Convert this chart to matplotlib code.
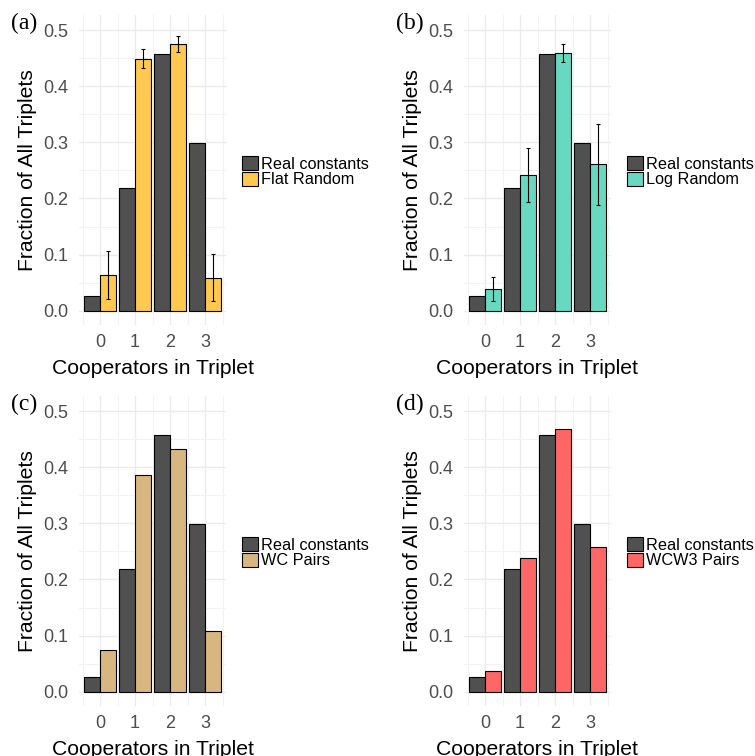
import matplotlib
matplotlib.use("Agg")
import matplotlib.pyplot as plt
import numpy as np

plt.rcParams['font.family'] = ['Liberation Sans', 'DejaVu Sans']

cooperators = [0, 1, 2, 3]
real_constants = [0.026, 0.219, 0.457, 0.298]

flat_random = [0.063, 0.449, 0.475, 0.059]
flat_lo = [0.021, 0.433, 0.461, 0.017]
flat_hi = [0.107, 0.466, 0.489, 0.101]

log_random = [0.038, 0.241, 0.460, 0.261]
log_lo = [0.017, 0.193, 0.443, 0.188]
log_hi = [0.060, 0.290, 0.476, 0.332]

wc_pairs = [0.075, 0.386, 0.432, 0.108]
wcw3_pairs = [0.036, 0.238, 0.468, 0.257]

W, H = 755, 756
fig = plt.figure(figsize=(W / 100, H / 100), dpi=100)

panels = [
    ("(a)", "Flat Random", flat_random, flat_lo, flat_hi, "#FFC84F", 79, 15, 11),
    ("(b)", "Log Random", log_random, log_lo, log_hi, "#66D9C0", 464, 15, 396),
    ("(c)", "WC Pairs", wc_pairs, None, None, "#D8B67F", 79, 396, 11),
    ("(d)", "WCW3 Pairs", wcw3_pairs, None, None, "#FF6666", 464, 396, 396),
]

x = np.array(cooperators)
bw = 0.45
for tag, name, vals, lo, hi, col, left, top, tagx in panels:
    ax = fig.add_axes([left / W, 1 - (top + 310) / H, 147 / W, 310 / H])
    ax.set_xlim(-0.6, 3.6)
    ax.set_ylim(-0.0255, 0.527)
    ax.set_xticks(x)
    ax.set_xticks([-0.5, 0.5, 1.5, 2.5, 3.5], minor=True)
    ax.set_yticks([0, 0.1, 0.2, 0.3, 0.4, 0.5])
    ax.set_yticks([0.05, 0.15, 0.25, 0.35, 0.45], minor=True)
    ax.grid(True, which='major', color='#ebebeb', lw=1.0, zorder=0)
    ax.grid(True, which='minor', color='#f2f2f2', lw=0.8, zorder=0)
    ax.set_axisbelow(True)
    for s in ax.spines.values():
        s.set_visible(False)
    ax.tick_params(which='both', length=0, labelsize=13, labelcolor='#4d4d4d')
    ax.tick_params(axis='x', pad=6.5)
    ax.tick_params(axis='y', pad=7.5)
    ax.set_yticklabels(["0.0", "0.1", "0.2", "0.3", "0.4", "0.5"])
    ax.bar(x - bw / 2, real_constants, bw, color='#505050', edgecolor='black',
           lw=0.8, label='Real constants', zorder=2)
    ax.bar(x + bw / 2, vals, bw, color=col, edgecolor='black', lw=0.8,
           label=name, zorder=2)
    if lo is not None:
        err = [np.array(vals) - np.array(lo), np.array(hi) - np.array(vals)]
        ax.errorbar(x + bw / 2, vals, yerr=err, fmt='none', ecolor='black',
                    elinewidth=0.8, capsize=1.6, capthick=0.8, zorder=3)
    ax.set_xlabel("Cooperators in Triplet", fontsize=15.2, labelpad=6)
    ax.set_ylabel("Fraction of All Triplets", fontsize=15.2, labelpad=5)
    ax.legend(loc='center left', bbox_to_anchor=(1.11, 0.494), frameon=False,
              fontsize=11.7, handlelength=1.0, handleheight=0.95,
              labelspacing=0.0, borderpad=0, handletextpad=0.15,
              borderaxespad=0)
    fig.text(tagx / W, 1 - (top + 8) / H, tag, fontsize=17,
             family=['Liberation Serif', 'DejaVu Serif'], va='center', ha='left')

fig.savefig("out.png", dpi=100, facecolor='white')
